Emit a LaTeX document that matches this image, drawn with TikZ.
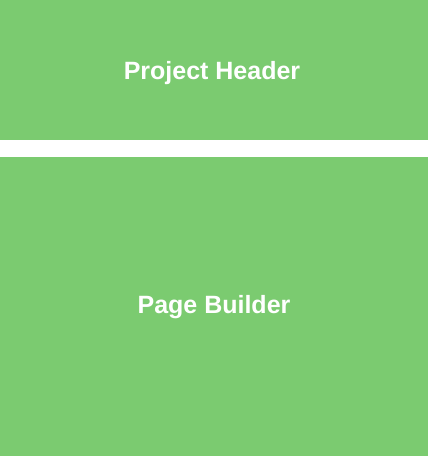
\documentclass[tikz,border=0pt]{standalone}
\usepackage{fontspec}
\setmainfont{Liberation Sans}
\definecolor{panelgreen}{RGB}{123,203,112}
\begin{document}
\begin{tikzpicture}[x=1pt,y=-1pt,
  panel/.style={fill=panelgreen,draw=none},
  paneltext/.style={text=white,font=\bfseries\fontsize{25}{30}\selectfont}]
\useasboundingbox (0,0) rectangle (428,456);
\fill[white] (0,0) rectangle (428,456);
% header band
\path[panel] (0,0) rectangle (428,140);
\node[paneltext] (header) at (212,73) {Project Header};
% page builder area
\path[panel] (0,157) rectangle (428,456);
\node[paneltext] (builder) at (214,307) {Page Builder};
\end{tikzpicture}
\end{document}
